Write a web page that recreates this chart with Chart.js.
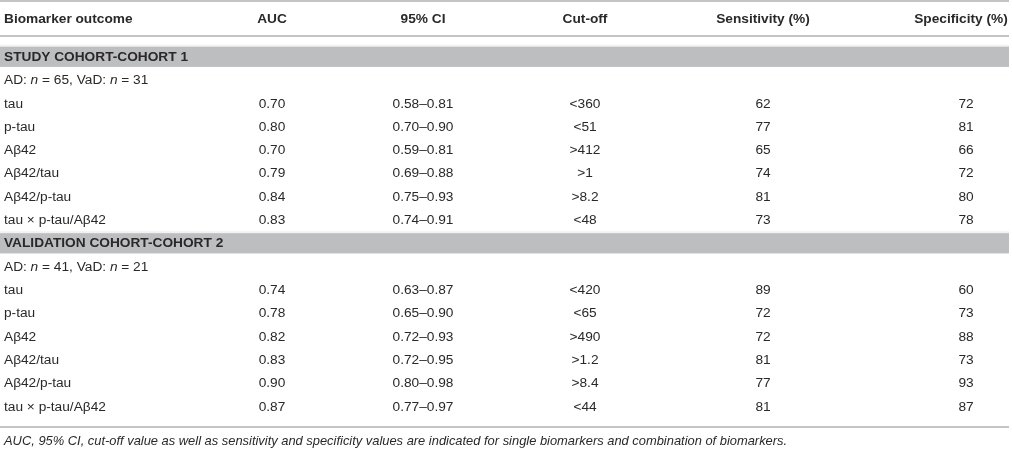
<!DOCTYPE html>
<html>
<head>
<meta charset="utf-8">
<script src="https://cdn.jsdelivr.net/npm/chart.js@4"></script>
<style>
    html, body { margin: 0; padding: 0; background: #fff; }
    #wrap { width: 1012px; height: 450px; position: relative; }
</style>
</head>
<body>
<div id="wrap"><canvas id="tableChart"></canvas></div>
<script>
const columns = ['Biomarker outcome', 'AUC', '95% CI', 'Cut-off', 'Sensitivity (%)', 'Specificity (%)'];
const cohorts = ['STUDY COHORT-COHORT 1', 'VALIDATION COHORT-COHORT 2'];
const adCounts = [65, 41];
const vadCounts = [31, 21];
const markers = ['tau', 'p-tau', 'A\u03b242', 'A\u03b242/tau', 'A\u03b242/p-tau', 'tau \u00d7 p-tau/A\u03b242'];

const auc1 = [0.70, 0.80, 0.70, 0.79, 0.84, 0.83];
const ci1 = ['0.58\u20130.81', '0.70\u20130.90', '0.59\u20130.81', '0.69\u20130.88', '0.75\u20130.93', '0.74\u20130.91'];
const cutoff1 = ['<360', '<51', '>412', '>1', '>8.2', '<48'];
const sens1 = [62, 77, 65, 74, 81, 73];
const spec1 = [72, 81, 66, 72, 80, 78];

const auc2 = [0.74, 0.78, 0.82, 0.83, 0.90, 0.87];
const ci2 = ['0.63\u20130.87', '0.65\u20130.90', '0.72\u20130.93', '0.72\u20130.95', '0.80\u20130.98', '0.77\u20130.97'];
const cutoff2 = ['<420', '<65', '>490', '>1.2', '>8.4', '<44'];
const sens2 = [89, 72, 72, 81, 77, 81];
const spec2 = [60, 73, 88, 73, 93, 87];

const footnote = 'AUC, 95% CI, cut-off value as well as sensitivity and specificity values are indicated for single biomarkers and combination of biomarkers.';

// layout (x in page px, y in row units)
const colX = [4, 272, 423, 585, 763, 966];
const headerX = [4, 272, 423, 585, 763, 961];
const headerRow = -1.64;
const rowsPerCohort = 8;
const footRow = 16.48;
const FONT = '"Liberation Sans", Arial, Helvetica, sans-serif';
const BODY = '13.7px ' + FONT;
const INK = '#2b2829';

const cohortValues = [
    [auc1, ci1, cutoff1, sens1, spec1],
    [auc2, ci2, cutoff2, sens2, spec2]
];

function buildDatasets() {
    const headerPts = columns.map((c, i) => ({ x: headerX[i], y: headerRow, t: c, align: i === 0 ? 'left' : 'center' }));
    const sectionPts = [];
    const groupPts = [];
    const cellPts = columns.map(() => []);

    cohorts.forEach((name, c) => {
        const r0 = c * rowsPerCohort;
        sectionPts.push({ x: colX[0], y: r0, t: name, align: 'left' });
        groupPts.push({ x: colX[0], y: r0 + 1, ad: adCounts[c], vad: vadCounts[c] });
        markers.forEach((m, k) => {
            const r = r0 + 2 + k;
            cellPts[0].push({ x: colX[0], y: r, t: m, align: 'left' });
            cohortValues[c].forEach((arr, j) => {
                const v = arr[k];
                const t = j === 0 ? v.toFixed(2) : String(v);
                cellPts[j + 1].push({ x: colX[j + 1], y: r, t: t, align: 'center' });
            });
        });
    });

    const sets = [
        { label: 'header', data: headerPts, font: 'bold ' + BODY },
        { label: 'section', data: sectionPts, font: 'bold ' + BODY },
        { label: 'group', data: groupPts, font: BODY, kind: 'group' }
    ];
    cellPts.forEach((pts, j) => sets.push({ label: columns[j], data: pts, font: BODY }));
    sets.push({ label: 'foot', data: [{ x: colX[0], y: footRow, t: footnote, align: 'left' }], font: 'italic 12.9px ' + FONT });
    sets.forEach(s => { s.pointRadius = 0; s.pointHoverRadius = 0; s.showLine = false; });
    return sets;
}

const tableFrame = {
    id: 'tableFrame',
    beforeDatasetsDraw(chart) {
        const ctx = chart.ctx;
        const xs = chart.scales.x, ys = chart.scales.y;
        const left = xs.getPixelForValue(0), right = xs.getPixelForValue(1009);
        ctx.save();
        // section bands
        cohorts.forEach((n, c) => {
            const top = ys.getPixelForValue(c * rowsPerCohort - 0.45);
            const bot = ys.getPixelForValue(c * rowsPerCohort + 0.42);
            ctx.fillStyle = '#f2f2f2';
            ctx.fillRect(left, top - 2, right - left, 2);
            ctx.fillStyle = '#bdbec0';
            ctx.fillRect(left, top, right - left, bot - top);
        });
        // rules
        ctx.fillStyle = '#c4c4c4';
        [-2.42, -0.92, 15.88].forEach(r => {
            const y = ys.getPixelForValue(r);
            ctx.fillRect(left, Math.round(y) - 1, right - left, 2);
        });
        ctx.restore();
    },
    afterDatasetsDraw(chart) {
        const ctx = chart.ctx;
        ctx.save();
        ctx.fillStyle = INK;
        ctx.textBaseline = 'middle';
        chart.data.datasets.forEach((ds, i) => {
            const meta = chart.getDatasetMeta(i);
            meta.data.forEach((el, k) => {
                const d = ds.data[k];
                ctx.font = ds.font;
                if (ds.kind === 'group') {
                    const parts = [['AD: ', false], ['n', true], [' = ' + d.ad + ', VaD: ', false], ['n', true], [' = ' + d.vad, false]];
                    let x = el.x;
                    ctx.textAlign = 'left';
                    parts.forEach(([s, it]) => {
                        ctx.font = (it ? 'italic ' : '') + BODY;
                        ctx.fillText(s, x, el.y);
                        x += ctx.measureText(s).width;
                    });
                } else {
                    ctx.textAlign = d.align;
                    ctx.fillText(d.t, el.x, el.y);
                }
            });
        });
        ctx.restore();
    }
};

new Chart(document.getElementById('tableChart'), {
    type: 'scatter',
    data: { datasets: buildDatasets() },
    options: {
        responsive: true,
        maintainAspectRatio: false,
        animation: false,
        layout: { padding: 0 },
        plugins: { legend: { display: false }, tooltip: { enabled: false } },
        events: [],
        scales: {
            x: { type: 'linear', display: false, min: 0, max: 1012 },
            y: { type: 'linear', display: false, reverse: true, min: -2.45, max: 16.85 }
        }
    },
    plugins: [tableFrame]
});
</script>
</body>
</html>
